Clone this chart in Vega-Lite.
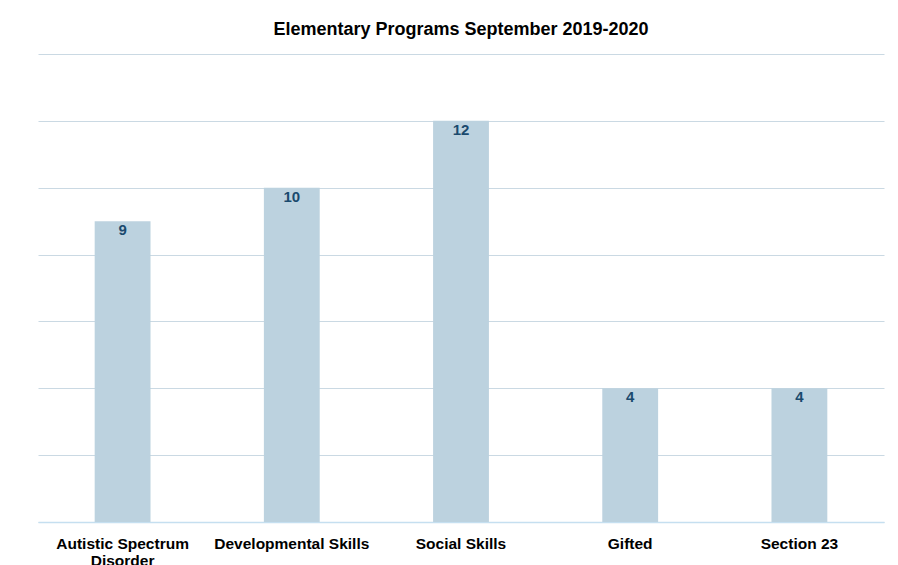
{
  "$schema": "https://vega.github.io/schema/vega-lite/v6.json",
  "autosize": "none",
  "width": 846,
  "height": 468,
  "padding": {"left": 38, "top": 54, "right": 14, "bottom": 43},
  "background": "white",
  "config": {
    "font": "Liberation Sans",
    "view": {"stroke": null}
  },
  "title": {
    "text": "Elementary Programs September 2019-2020",
    "fontSize": 18,
    "fontWeight": "bold",
    "color": "#000000",
    "anchor": "middle",
    "baseline": "alphabetic",
    "offset": 1
  },
  "data": {
    "values": [
      {"program": "Autistic Spectrum Disorder", "count": 9},
      {"program": "Developmental Skills", "count": 10},
      {"program": "Social Skills", "count": 12},
      {"program": "Gifted", "count": 4},
      {"program": "Section 23", "count": 4}
    ]
  },
  "encoding": {
    "x": {
      "field": "program",
      "type": "nominal",
      "sort": null,
      "scale": {"paddingInner": 0.67, "paddingOuter": 0.335},
      "axis": {
        "title": null,
        "labelAngle": 0,
        "ticks": false,
        "domainColor": "#C5DFF0",
        "domainWidth": 1.5,
        "labelFontSize": 15.5,
        "labelFontWeight": "bold",
        "labelColor": "#000000",
        "labelPadding": 14,
        "labelLineHeight": 17,
        "labelExpr": "datum.label == 'Autistic Spectrum Disorder' ? ['Autistic Spectrum', 'Disorder'] : datum.label"
      }
    },
    "y": {
      "field": "count",
      "type": "quantitative",
      "scale": {"domain": [0, 14], "nice": false},
      "axis": {
        "title": null,
        "values": [0, 2, 4, 6, 8, 10, 12, 14],
        "labels": false,
        "ticks": false,
        "domain": false,
        "grid": true,
        "gridColor": "#CAD9E3",
        "gridWidth": 1
      }
    }
  },
  "layer": [
    {"mark": {"type": "bar", "color": "#BCD2DF"}},
    {
      "mark": {"type": "text", "baseline": "middle", "dy": 9, "fontSize": 15, "fontWeight": "bold", "color": "#1A4A6E"},
      "encoding": {"text": {"field": "count", "type": "quantitative"}}
    }
  ]
}
